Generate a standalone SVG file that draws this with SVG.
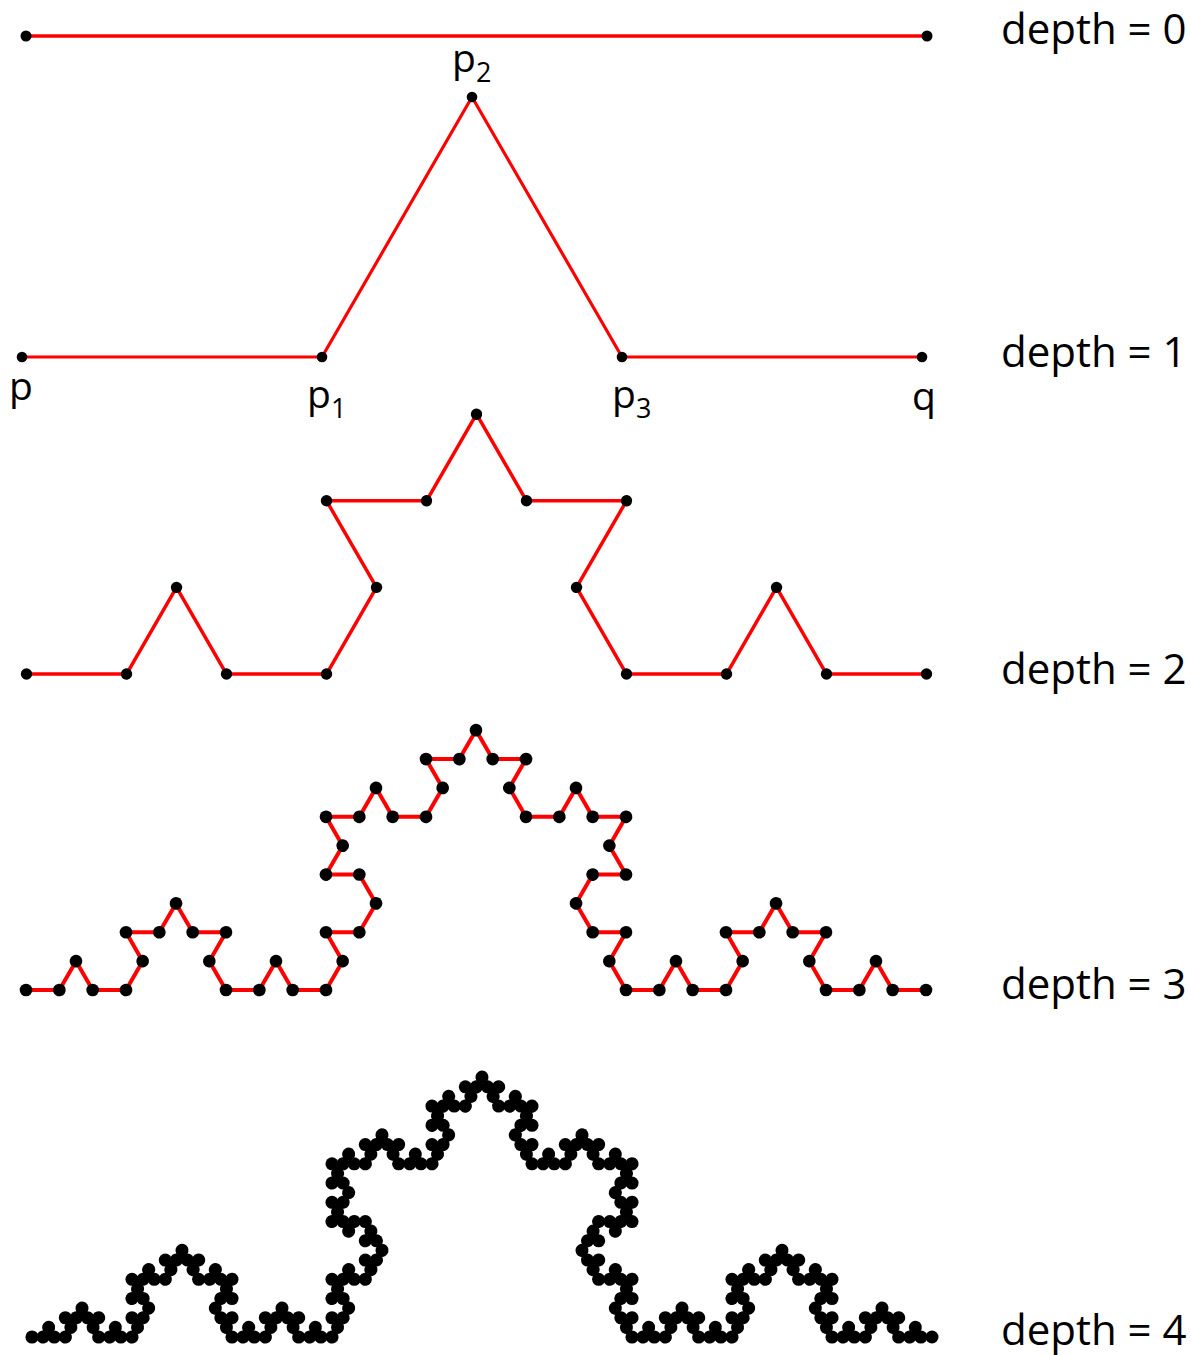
<svg xmlns="http://www.w3.org/2000/svg" xmlns:xlink="http://www.w3.org/1999/xlink" width="1191" height="1355" viewBox="0 0 1191 1355">
<style>
.ln{stroke:#ff0000;fill:none;vector-effect:non-scaling-stroke}
.lbl{font-family:"Open Sans","Liberation Sans",sans-serif;font-size:42px;fill:#000}
.pt{font-family:"Open Sans","Liberation Sans",sans-serif;font-size:39px;fill:#000}
.sub{font-size:27px}
.dt{fill:#000}
</style>
<defs>
<line id="L0" class="ln" x1="0" y1="0" x2="1" y2="0"/>
<g id="L1"><use href="#L0" transform="scale(0.33333333)"/><use href="#L0" transform="translate(0.33333333,0) rotate(-60) scale(0.33333333)"/><use href="#L0" transform="translate(0.5,-0.28867513) rotate(60) scale(0.33333333)"/><use href="#L0" transform="translate(0.66666667,0) scale(0.33333333)"/></g>
<g id="L2"><use href="#L1" transform="scale(0.33333333)"/><use href="#L1" transform="translate(0.33333333,0) rotate(-60) scale(0.33333333)"/><use href="#L1" transform="translate(0.5,-0.28867513) rotate(60) scale(0.33333333)"/><use href="#L1" transform="translate(0.66666667,0) scale(0.33333333)"/></g>
<g id="L3"><use href="#L2" transform="scale(0.33333333)"/><use href="#L2" transform="translate(0.33333333,0) rotate(-60) scale(0.33333333)"/><use href="#L2" transform="translate(0.5,-0.28867513) rotate(60) scale(0.33333333)"/><use href="#L2" transform="translate(0.66666667,0) scale(0.33333333)"/></g>
<g id="L4"><use href="#L3" transform="scale(0.33333333)"/><use href="#L3" transform="translate(0.33333333,0) rotate(-60) scale(0.33333333)"/><use href="#L3" transform="translate(0.5,-0.28867513) rotate(60) scale(0.33333333)"/><use href="#L3" transform="translate(0.66666667,0) scale(0.33333333)"/></g>
<circle id="A0" class="dt" cx="0" cy="0" r="0.057"/>
<g id="A1"><use href="#A0" transform="scale(0.33333333)"/><use href="#A0" transform="translate(0.33333333,0) rotate(-60) scale(0.33333333)"/><use href="#A0" transform="translate(0.5,-0.28867513) rotate(60) scale(0.33333333)"/><use href="#A0" transform="translate(0.66666667,0) scale(0.33333333)"/></g>
<g id="A2"><use href="#A1" transform="scale(0.33333333)"/><use href="#A1" transform="translate(0.33333333,0) rotate(-60) scale(0.33333333)"/><use href="#A1" transform="translate(0.5,-0.28867513) rotate(60) scale(0.33333333)"/><use href="#A1" transform="translate(0.66666667,0) scale(0.33333333)"/></g>
<circle id="B0" class="dt" cx="0" cy="0" r="0.19"/>
<g id="B1"><use href="#B0" transform="scale(0.33333333)"/><use href="#B0" transform="translate(0.33333333,0) rotate(-60) scale(0.33333333)"/><use href="#B0" transform="translate(0.5,-0.28867513) rotate(60) scale(0.33333333)"/><use href="#B0" transform="translate(0.66666667,0) scale(0.33333333)"/></g>
<g id="B2"><use href="#B1" transform="scale(0.33333333)"/><use href="#B1" transform="translate(0.33333333,0) rotate(-60) scale(0.33333333)"/><use href="#B1" transform="translate(0.5,-0.28867513) rotate(60) scale(0.33333333)"/><use href="#B1" transform="translate(0.66666667,0) scale(0.33333333)"/></g>
<g id="B3"><use href="#B2" transform="scale(0.33333333)"/><use href="#B2" transform="translate(0.33333333,0) rotate(-60) scale(0.33333333)"/><use href="#B2" transform="translate(0.5,-0.28867513) rotate(60) scale(0.33333333)"/><use href="#B2" transform="translate(0.66666667,0) scale(0.33333333)"/></g>
<circle id="C0" class="dt" cx="0" cy="0" r="0.59"/>
<g id="C1"><use href="#C0" transform="scale(0.33333333)"/><use href="#C0" transform="translate(0.33333333,0) rotate(-60) scale(0.33333333)"/><use href="#C0" transform="translate(0.5,-0.28867513) rotate(60) scale(0.33333333)"/><use href="#C0" transform="translate(0.66666667,0) scale(0.33333333)"/></g>
<g id="C2"><use href="#C1" transform="scale(0.33333333)"/><use href="#C1" transform="translate(0.33333333,0) rotate(-60) scale(0.33333333)"/><use href="#C1" transform="translate(0.5,-0.28867513) rotate(60) scale(0.33333333)"/><use href="#C1" transform="translate(0.66666667,0) scale(0.33333333)"/></g>
<g id="C3"><use href="#C2" transform="scale(0.33333333)"/><use href="#C2" transform="translate(0.33333333,0) rotate(-60) scale(0.33333333)"/><use href="#C2" transform="translate(0.5,-0.28867513) rotate(60) scale(0.33333333)"/><use href="#C2" transform="translate(0.66666667,0) scale(0.33333333)"/></g>
<g id="C4"><use href="#C3" transform="scale(0.33333333)"/><use href="#C3" transform="translate(0.33333333,0) rotate(-60) scale(0.33333333)"/><use href="#C3" transform="translate(0.5,-0.28867513) rotate(60) scale(0.33333333)"/><use href="#C3" transform="translate(0.66666667,0) scale(0.33333333)"/></g>
</defs>
<rect width="1191" height="1355" fill="#fff"/>

<g id="depth0">
<line class="ln" stroke-width="3.5" x1="26" y1="36" x2="927" y2="36"/>
<circle class="dt" cx="26" cy="36" r="5.5"/>
<circle class="dt" cx="927" cy="36" r="5.5"/>
<text class="lbl" x="1001" y="44">depth = 0</text>
</g>

<g id="depth1">
<polyline class="ln" stroke-width="3.2" stroke-linejoin="round" points="22,357 322,357 472,97 622,357 922,357"/>
<g class="dt">
<circle cx="22" cy="357" r="5.3"/><circle cx="322" cy="357" r="5.3"/><circle cx="472" cy="97" r="5.3"/><circle cx="622" cy="357" r="5.3"/><circle cx="922" cy="357" r="5.3"/>
</g>
<text class="pt" x="9" y="400">p</text>
<text class="pt" x="307" y="408">p<tspan class="sub" dy="10">1</tspan></text>
<text class="pt" x="452" y="72">p<tspan class="sub" dy="10">2</tspan></text>
<text class="pt" x="612" y="408">p<tspan class="sub" dy="10">3</tspan></text>
<text class="pt" x="912" y="410">q</text>
<text class="lbl" x="1001" y="367">depth = 1</text>
</g>

<g id="depth2">
<use href="#L2" stroke-width="3.5" transform="translate(26.5,674) scale(900)"/>
<use href="#A2" transform="translate(26.5,674) scale(900)"/>
<circle class="dt" cx="926.5" cy="674" r="5.7"/>
<text class="lbl" x="1001" y="684">depth = 2</text>
</g>

<g id="depth3">
<use href="#L3" stroke-width="4" transform="translate(26,990) scale(900)"/>
<use href="#B3" transform="translate(26,990) scale(900)"/>
<circle class="dt" cx="926" cy="990" r="6.3"/>
<text class="lbl" x="1001" y="999">depth = 3</text>
</g>

<g id="depth4">
<use href="#L4" stroke-width="3.5" transform="translate(32,1337) scale(900)"/>
<use href="#C4" transform="translate(32,1337) scale(900)"/>
<circle class="dt" cx="932" cy="1337" r="6.5"/>
<text class="lbl" x="1001" y="1345">depth = 4</text>
</g>
</svg>
